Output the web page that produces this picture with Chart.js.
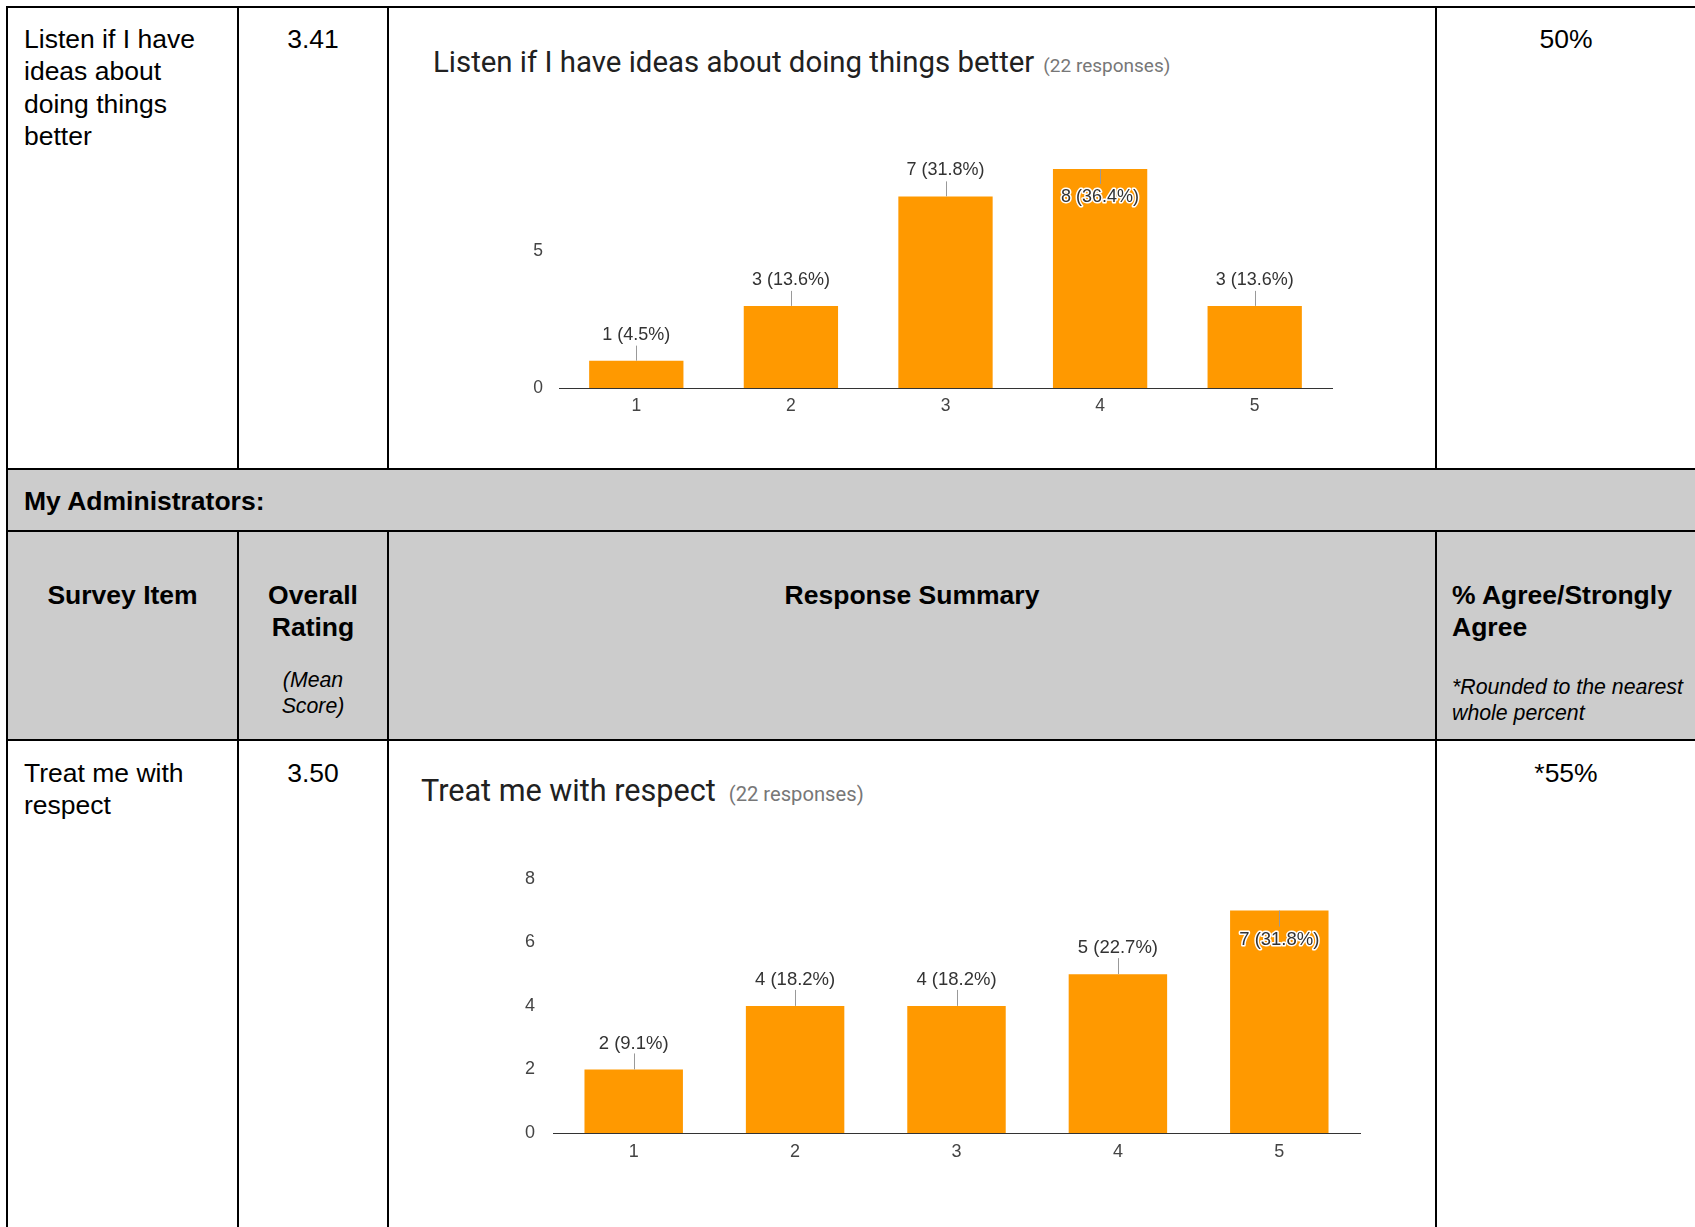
<!DOCTYPE html>
<html>
<head>
<meta charset="utf-8">
<script src="https://cdn.jsdelivr.net/npm/chart.js@4.4.1/dist/chart.umd.min.js"></script>
<style>
  body { margin: 0; background: #fff; font-family: "Liberation Sans", Arial, sans-serif; color: #000; }
  #page { position: relative; width: 1695px; height: 1227px; overflow: hidden; }
  .abs { position: absolute; }
  .gray { background: #cccccc; }
  .hl { position: absolute; height: 2px; background: #000; }
  .vl { position: absolute; width: 2px; background: #000; }
  .t { position: absolute; font-size: 26.5px; line-height: 32.4px; white-space: nowrap; }
  .b { font-weight: bold; }
  .it { position: absolute; font-size: 21.3px; line-height: 26px; font-style: italic; white-space: nowrap; }
  .ctitle { position: absolute; font-family: Roboto, sans-serif; color: #212121; line-height: 34px; white-space: nowrap; }
  .ctitle span { color: #777; }
  canvas { position: absolute; }
</style>
</head>
<body>
<div id="page">
  <!-- gray rows -->
  <div class="abs gray" style="left:8px; top:470px; width:1690px; height:270px;"></div>

  <!-- table lines -->
  <div class="hl" style="left:6px; top:6px; width:1695px;"></div>
  <div class="hl" style="left:6px; top:468px; width:1695px;"></div>
  <div class="hl" style="left:6px; top:530px; width:1695px;"></div>
  <div class="hl" style="left:6px; top:739px; width:1695px;"></div>
  <div class="vl" style="left:6px; top:6px; height:1230px;"></div>
  <div class="vl" style="left:237px; top:6px; height:463px;"></div>
  <div class="vl" style="left:387px; top:6px; height:463px;"></div>
  <div class="vl" style="left:1435px; top:6px; height:463px;"></div>
  <div class="vl" style="left:237px; top:530px; height:700px;"></div>
  <div class="vl" style="left:387px; top:530px; height:700px;"></div>
  <div class="vl" style="left:1435px; top:530px; height:700px;"></div>

  <!-- row 1 -->
  <div class="t" style="left:24px; top:23px;">Listen if I have<br>ideas about<br>doing things<br>better</div>
  <div class="t" style="left:239px; top:23px; width:148px; text-align:center;">3.41</div>
  <div class="t" style="left:1437px; top:23px; width:258px; text-align:center;">50%</div>
  <div class="ctitle" style="left:433px; top:45px; font-size:29.4px;">Listen if I have ideas about doing things better<span style="font-size:19px; margin-left:9px;">(22 responses)</span></div>
  <canvas id="chartListen" width="900" height="290" style="left:470px; top:140px;"></canvas>

  <!-- section row -->
  <div class="t b" style="left:24px; top:485px;">My Administrators:</div>

  <!-- header row -->
  <div class="t b" style="left:8px; top:579px; width:229px; text-align:center;">Survey Item</div>
  <div class="t b" style="left:239px; top:579px; width:148px; text-align:center;">Overall<br>Rating</div>
  <div class="t b" style="left:389px; top:579px; width:1046px; text-align:center;">Response Summary</div>
  <div class="t b" style="left:1452px; top:579px;">% Agree/Strongly<br>Agree</div>
  <div class="it" style="left:239px; top:667px; width:148px; text-align:center;">(Mean<br>Score)</div>
  <div class="it" style="left:1452px; top:674px;">*Rounded to the nearest<br>whole percent</div>

  <!-- row 2 -->
  <div class="t" style="left:24px; top:757px;">Treat me with<br>respect</div>
  <div class="t" style="left:239px; top:757px; width:148px; text-align:center;">3.50</div>
  <div class="t" style="left:1437px; top:757px; width:258px; text-align:center;">*55%</div>
  <div class="ctitle" style="left:421px; top:774px; font-size:30.6px;">Treat me with respect<span style="font-size:20.2px; margin-left:13px;">(22 responses)</span></div>
  <canvas id="chartRespect" width="950" height="330" style="left:460px; top:850px;"></canvas>
</div>

<script>
const categories = ['1', '2', '3', '4', '5'];
const listenValues = [1, 3, 7, 8, 3];
const respectValues = [2, 4, 4, 5, 7];
const listenTicks = [0, 5];
const respectTicks = [0, 2, 4, 6, 8];
const orange = '#ff9900';

// value (percent) labels with a little leader line, like google forms
const barLabels = {
  id: 'barLabels',
  afterDatasetsDraw(chart, args, o) {
    const ctx = chart.ctx;
    const data = chart.data.datasets[0].data;
    const meta = chart.getDatasetMeta(0);
    const total = data.reduce((a, b) => a + b, 0);
    const max = Math.max(...data);
    ctx.save();
    ctx.font = o.size + 'px "Liberation Sans", Arial, sans-serif';
    ctx.textAlign = 'center';
    ctx.textBaseline = 'middle';
    meta.data.forEach((bar, i) => {
      const v = data[i];
      const txt = v + ' (' + (v / total * 100).toFixed(1) + '%)';
      const inside = v === max;
      const x = Math.round(bar.x) + 0.5;
      ctx.strokeStyle = '#999';
      ctx.lineWidth = 1;
      ctx.beginPath();
      ctx.moveTo(x, bar.y);
      ctx.lineTo(x, inside ? bar.y + o.line : bar.y - o.line);
      ctx.stroke();
      const ty = inside ? bar.y + o.inOffset : bar.y - o.offset;
      if (inside) {
        ctx.lineWidth = 3;
        ctx.lineJoin = 'round';
        ctx.strokeStyle = '#fff';
        ctx.strokeText(txt, bar.x, ty);
      }
      ctx.fillStyle = '#333';
      ctx.fillText(txt, bar.x, ty);
    });
    ctx.restore();
  }
};

function makeChart(id, values, yTicks, cfg) {
  return new Chart(document.getElementById(id), {
    type: 'bar',
    data: {
      labels: categories,
      datasets: [{
        data: values,
        backgroundColor: orange,
        borderWidth: 0,
        categoryPercentage: 1,
        barPercentage: 0.61
      }]
    },
    options: {
      responsive: false,
      animation: false,
      layout: { padding: { top: cfg.padTop, right: cfg.padRight, bottom: 0, left: 0 } },
      scales: {
        x: {
          grid: { display: false, drawTicks: false },
          border: { display: true, color: '#333', width: 1 },
          ticks: { color: '#444', font: { size: cfg.font, family: '"Liberation Sans", Arial' }, padding: cfg.xPad },
          afterFit: (s) => { s.height = cfg.xHeight; }
        },
        y: {
          min: 0,
          max: 8,
          grid: { display: false, drawTicks: false },
          border: { display: false },
          ticks: { color: '#444', font: { size: cfg.font, family: '"Liberation Sans", Arial' }, padding: cfg.yPad },
          afterBuildTicks: (s) => { s.ticks = yTicks.map(v => ({ value: v })); },
          afterFit: (s) => { s.width = cfg.yWidth; }
        }
      },
      plugins: {
        legend: { display: false },
        tooltip: { enabled: false },
        barLabels: { size: cfg.labelSize, offset: cfg.offset, inOffset: cfg.inOffset, line: cfg.line }
      }
    },
    plugins: [barLabels]
  });
}

makeChart('chartListen', listenValues, listenTicks, {
  padTop: 29, padRight: 38, xHeight: 42, yWidth: 89, xPad: 8, yPad: 16,
  font: 17.5, labelSize: 18, offset: 26, inOffset: 28, line: 15
});

makeChart('chartRespect', respectValues, respectTicks, {
  padTop: 21, padRight: 50, xHeight: 47, yWidth: 93, xPad: 8, yPad: 18,
  font: 18, labelSize: 18.5, offset: 26, inOffset: 29, line: 16
});
</script>
</body>
</html>
